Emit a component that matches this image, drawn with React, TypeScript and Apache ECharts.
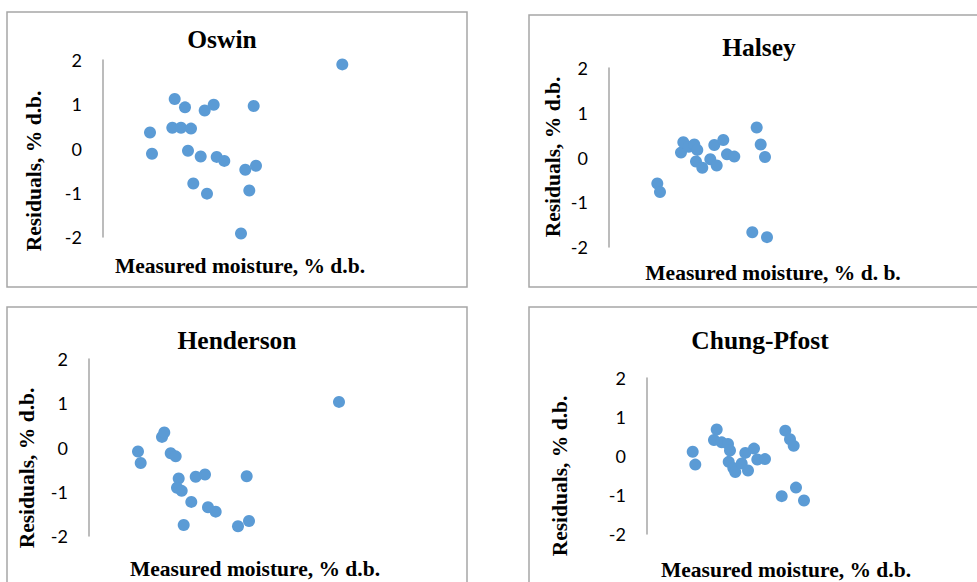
import React, { useEffect, useRef } from "react";
import * as echarts from "echarts";

const panelTitles = ["Oswin", "Halsey", "Henderson", "Chung-Pfost"];
const xAxisNames = [
  "Measured moisture, % d.b.",
  "Measured moisture, % d. b.",
  "Measured moisture, % d.b.",
  "Measured moisture, % d.b.",
];
const yAxisName = "Residuals, % d.b.";
const yTicks = [-2, -1, 0, 1, 2];

// [measured moisture (relative scale), residual]
const oswin: number[][] = [
  [4.7, 0.36], [4.9, -0.12], [7.17, 1.12], [6.93, 0.47], [7.8, 0.47],
  [8.8, 0.45], [8.2, 0.93], [8.5, -0.05], [9.03, -0.79], [9.77, -0.18],
  [10.17, 0.86], [11.07, 0.99], [10.4, -1.02], [11.37, -0.19], [12.13, -0.28],
  [13.8, -1.92], [14.23, -0.48], [14.63, -0.95], [15.07, 0.96], [15.3, -0.39],
  [23.93, 1.9],
];
const halsey: number[][] = [
  [4.83, -0.58], [5.1, -0.77], [7.2, 0.11], [7.43, 0.34], [7.97, 0.24],
  [8.53, 0.29], [8.83, 0.17], [8.7, -0.09], [9.33, -0.23], [10.13, -0.04],
  [10.77, -0.18], [10.53, 0.28], [11.43, 0.39], [11.8, 0.07], [12.53, 0.02],
  [14.77, 0.67], [15.17, 0.29], [15.6, 0.01], [14.33, -1.67], [15.8, -1.78],
];
const henderson: number[][] = [
  [4.9, -0.09], [5.17, -0.35], [7.3, 0.24], [7.53, 0.34], [8.17, -0.13],
  [8.67, -0.2], [8.97, -0.7], [8.8, -0.91], [9.27, -0.98], [9.47, -1.75],
  [10.23, -1.23], [10.67, -0.66], [11.6, -0.61], [11.9, -1.35], [12.67, -1.45],
  [14.9, -1.78], [15.77, -0.65], [16.0, -1.66], [25.0, 1.03],
];
const chungPfost: number[][] = [
  [4.57, 0.11], [4.83, -0.22], [6.7, 0.41], [6.97, 0.68], [7.47, 0.35],
  [8.1, 0.31], [8.3, 0.14], [8.17, -0.15], [8.63, -0.31], [8.83, -0.41],
  [9.47, -0.19], [9.83, 0.08], [10.1, -0.37], [10.7, 0.19], [11.03, -0.09],
  [11.8, -0.08], [13.47, -1.03], [13.83, 0.65], [14.3, 0.43], [14.67, 0.26],
  [14.9, -0.81], [15.7, -1.14],
];

const seriesData = [oswin, halsey, henderson, chungPfost];

// layout of each panel (pixels)
const grids = [
  { left: 103, top: 60, width: 274, height: 177 },
  { left: 609, top: 68, width: 328, height: 179 },
  { left: 89, top: 359, width: 332, height: 177 },
  { left: 647, top: 378, width: 278, height: 156 },
];
const borders = [
  { x: 7, y: 12, width: 460, height: 275 },
  { x: 529, y: 15, width: 470, height: 272 },
  { x: 7, y: 307, width: 460, height: 300 },
  { x: 529, y: 307, width: 470, height: 300 },
];
const titlePos = [
  { x: 222, y: 39 },
  { x: 759, y: 47 },
  { x: 237, y: 340 },
  { x: 760, y: 340 },
];
const xNamePos = [
  { x: 240, y: 266 },
  { x: 773, y: 273 },
  { x: 255, y: 569 },
  { x: 786, y: 570 },
];
const yNamePos = [
  { x: 34, y: 171 },
  { x: 553, y: 157 },
  { x: 27, y: 468 },
  { x: 560, y: 476 },
];

const SERIF = "'Liberation Serif', 'Times New Roman', serif";
const SANS = "Lato, 'Liberation Sans', sans-serif";

export default function App() {
  const ref = useRef<HTMLDivElement>(null);
  useEffect(() => {
    if (!ref.current) return;
    const chart = echarts.init(ref.current, undefined, { renderer: "svg" });
    const graphic: any[] = [];
    borders.forEach((b) => {
      graphic.push({
        type: "rect",
        shape: { x: b.x, y: b.y, width: b.width, height: b.height },
        style: { fill: "none", stroke: "#a6a6a6", lineWidth: 1.5 },
        silent: true,
        z: 0,
      });
    });
    panelTitles.forEach((t, i) => {
      graphic.push({
        type: "text",
        x: titlePos[i].x,
        y: titlePos[i].y,
        style: {
          text: t,
          font: `bold 25.5px ${SERIF}`,
          fill: "#000",
          align: "center",
          verticalAlign: "middle",
        },
      });
    });
    xAxisNames.forEach((t, i) => {
      graphic.push({
        type: "text",
        x: xNamePos[i].x,
        y: xNamePos[i].y,
        style: {
          text: t,
          font: `bold 21.5px ${SERIF}`,
          fill: "#000",
          align: "center",
          verticalAlign: "middle",
        },
      });
      graphic.push({
        type: "text",
        x: yNamePos[i].x,
        y: yNamePos[i].y,
        rotation: Math.PI / 2,
        style: {
          text: yAxisName,
          font: `bold 21.5px ${SERIF}`,
          fill: "#000",
          align: "center",
          verticalAlign: "middle",
        },
      });
    });

    chart.setOption({
      animation: false,
      backgroundColor: "#fff",
      grid: grids.map((g) => ({
        ...g,
        containLabel: false,
        outerBoundsMode: "none",
      })),
      xAxis: grids.map((g, i) => ({
        type: "value",
        gridIndex: i,
        min: 0,
        max: g.width / 10,
        show: false,
      })),
      yAxis: grids.map((g, i) => ({
        type: "value",
        gridIndex: i,
        min: yTicks[0],
        max: yTicks[yTicks.length - 1],
        interval: 1,
        axisLine: { show: true, lineStyle: { color: "#a6a6a6", width: 1.5 } },
        axisTick: { show: false },
        splitLine: { show: false },
        axisLabel: {
          margin: 21,
          color: "#000",
          fontSize: 18,
          fontFamily: SANS,
        },
      })),
      series: seriesData.map((d, i) => ({
        type: "scatter",
        xAxisIndex: i,
        yAxisIndex: i,
        data: d,
        symbolSize: 12,
        itemStyle: { color: "#5b9bd5", opacity: 1 },
      })),
      graphic,
    });
    return () => chart.dispose();
  }, []);
  return (
    <div
      ref={ref}
      style={{ position: "fixed", left: 0, top: 0, width: 977, height: 582, background: "#fff" }}
    />
  );
}
